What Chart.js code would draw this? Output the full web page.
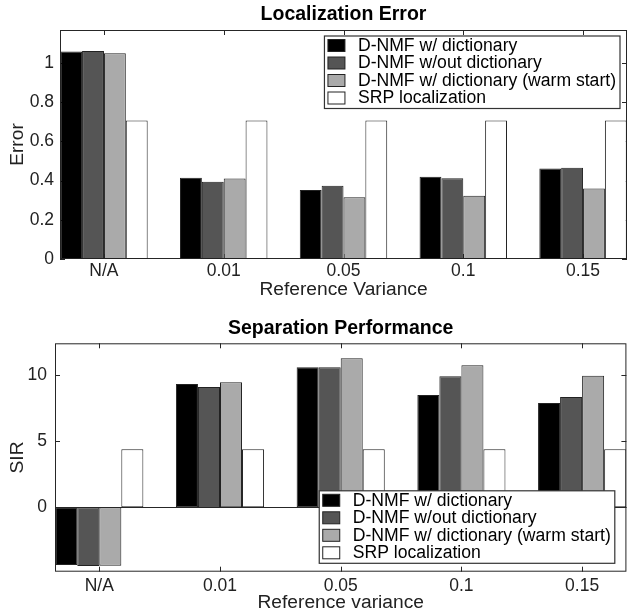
<!DOCTYPE html>
<html>
<head>
<meta charset="utf-8">
<script src="https://cdn.jsdelivr.net/npm/chart.js@4"></script>
<style>
  body { margin: 0; background: #fff; }
  canvas { position: absolute; left: 0; }
  #errChart { top: 0; }
  #sirChart { top: 300px; }
</style>
</head>
<body>
<canvas id="errChart" width="628" height="300"></canvas>
<canvas id="sirChart" width="628" height="311"></canvas>
<script>
const categories = ['N/A', '0.01', '0.05', '0.1', '0.15'];
const seriesNames = [
    'D-NMF w/ dictionary',
    'D-NMF w/out dictionary',
    'D-NMF w/ dictionary (warm start)',
    'SRP localization'
];
const seriesColors = ['#000000', '#555555', '#aaaaaa', '#ffffff'];

// localization error
const errDict   = [1.058, 0.415, 0.352, 0.420, 0.461];
const errNoDict = [1.061, 0.394, 0.374, 0.412, 0.466];
const errWarm   = [1.049, 0.410, 0.315, 0.323, 0.359];
const errSrp    = [0.706, 0.706, 0.706, 0.706, 0.706];

// separation performance (SIR)
const sirDict   = [-4.37, 9.34, 10.60, 8.51, 7.90];
const sirNoDict = [-4.45, 9.11, 10.60, 9.92, 8.36];
const sirWarm   = [-4.42, 9.47, 11.29, 10.76, 9.97];
const sirSrp    = [4.39, 4.39, 4.39, 4.39, 4.39];

Chart.defaults.font.family = '"Liberation Sans", Arial, sans-serif';
Chart.defaults.color = '#222';

const axisColor = '#262626';

// box around the plot with small inward ticks, plus the zero line
const framePlugin = {
    id: 'frame',
    beforeDatasetsDraw(chart) {
        const {ctx, chartArea: a, scales: {x, y}} = chart;
        ctx.save();
        ctx.strokeStyle = axisColor;
        ctx.lineWidth = 1;
        ctx.strokeRect(a.left + 0.5, a.top + 0.5, a.width - 1, a.height - 1);
        ctx.beginPath();
        x.ticks.forEach(t => {
            const px = Math.round(x.getPixelForValue(t.value)) + 0.5;
            ctx.moveTo(px, a.top); ctx.lineTo(px, a.top + 5);
            ctx.moveTo(px, a.bottom); ctx.lineTo(px, a.bottom - 5);
        });
        y.ticks.forEach(t => {
            const py = Math.round(y.getPixelForValue(t.value)) + 0.5;
            ctx.moveTo(a.left, py); ctx.lineTo(a.left + 5, py);
            ctx.moveTo(a.right, py); ctx.lineTo(a.right - 5, py);
        });
        ctx.stroke();
        ctx.restore();
    },
    afterDatasetsDraw(chart) {
        const {ctx, chartArea: a, scales: {y}} = chart;
        if (y.min >= 0) return;
        const py = Math.round(y.getPixelForValue(0)) + 0.5;
        ctx.save();
        ctx.strokeStyle = axisColor;
        ctx.lineWidth = 1;
        ctx.beginPath();
        ctx.moveTo(a.left, py); ctx.lineTo(a.right, py);
        ctx.stroke();
        ctx.restore();
    }
};

// matlab style legend box inside the plot
function boxLegend(opts) {
    return {
        id: 'boxLegend',
        afterDraw(chart) {
            const {ctx, chartArea: a} = chart;
            ctx.save();
            ctx.font = '17.6px "Liberation Sans", Arial, sans-serif';
            const names = chart.data.datasets.map(d => d.label);
            const tw = Math.max(...names.map(n => ctx.measureText(n).width));
            const rowH = 17.5;
            const w = 33.5 + tw + 4;
            const h = rowH * names.length + 2.5;
            const right = a.right - opts.right;
            const left = right - w;
            const top = opts.top != null ? a.top + opts.top : a.bottom - opts.bottom - h;
            ctx.fillStyle = '#fff';
            ctx.fillRect(left, top, w, h);
            ctx.strokeStyle = '#333';
            ctx.lineWidth = 1.2;
            ctx.strokeRect(left, top, w, h);
            ctx.textBaseline = 'middle';
            ctx.lineWidth = 1;
            chart.data.datasets.forEach((d, i) => {
                const cy = top + 9.5 + rowH * i;
                ctx.fillStyle = d.backgroundColor;
                ctx.fillRect(left + 3.5, cy - 6, 17, 12);
                ctx.strokeStyle = '#222';
                ctx.strokeRect(left + 3.5, cy - 6, 17, 12);
                ctx.fillStyle = '#000';
                ctx.fillText(d.label, left + 33.5, cy + 0.5);
            });
            ctx.restore();
        }
    };
}

function makeChart(id, series, o) {
    return new Chart(document.getElementById(id), {
        type: 'bar',
        data: {
            datasets: series.map((vals, i) => ({
                label: seriesNames[i],
                data: vals.map((v, j) => ({x: j + 1, y: v})),
                backgroundColor: seriesColors[i],
                borderColor: '#222',
                borderWidth: 1,
                borderSkipped: false,
                barPercentage: 1,
                categoryPercentage: 0.73
            }))
        },
        options: {
            responsive: false,
            animation: false,
            events: [],
            layout: {padding: {left: 0, right: o.rightPad, top: 0, bottom: 0}},
            plugins: {
                legend: {display: false},
                tooltip: {enabled: false},
                title: {
                    display: true,
                    text: o.title,
                    color: '#000',
                    fullSize: false,
                    font: {size: 19.5, weight: 'bold', lineHeight: 1.2},
                    padding: o.titlePad
                }
            },
            scales: {
                x: {
                    type: 'linear',
                    offset: false,
                    min: 0.633,
                    max: 5.367,
                    grid: {display: false, drawTicks: false, offset: false},
                    border: {display: false},
                    ticks: {
                        stepSize: 1,
                        includeBounds: false,
                        padding: o.xTickPad,
                        font: {size: 17.5},
                        callback: v => categories[v - 1]
                    },
                    title: {
                        display: true,
                        text: o.xTitle,
                        font: {size: 19.2, lineHeight: 0.8},
                        padding: {top: 0, bottom: o.xTitleBottom}
                    },
                    afterFit: s => { s.height = o.xHeight; }
                },
                y: {
                    min: o.yMin,
                    max: o.yMax,
                    grid: {display: false, drawTicks: false},
                    border: {display: false},
                    ticks: {
                        stepSize: o.yStep,
                        includeBounds: false,
                        padding: o.yTickPad,
                        font: {size: 17.5},
                        callback: v => Number(v.toFixed(2)).toString()
                    },
                    title: {
                        display: true,
                        text: o.yTitle,
                        font: {size: 19.2, lineHeight: 0.8},
                        padding: {top: 10.3, bottom: 0}
                    },
                    afterFit: s => { s.width = o.yWidth; }
                }
            }
        },
        plugins: [framePlugin, boxLegend(o.legend)]
    });
}

makeChart('errChart', [errDict, errNoDict, errWarm, errSrp], {
    title: 'Localization Error',
    titlePad: {top: 3.3, bottom: 3.3},
    xTitle: 'Reference Variance',
    yTitle: 'Error',
    yMin: 0, yMax: 1.168, yStep: 0.2,
    yWidth: 60, xHeight: 41, rightPad: 1,
    xTickPad: 2, yTickPad: 6, xTitleBottom: 2.3,
    legend: {right: 7, top: 6}
});

makeChart('sirChart', [sirDict, sirNoDict, sirWarm, sirSrp], {
    title: 'Separation Performance',
    titlePad: {top: 16.6, bottom: 3.3},
    xTitle: 'Reference variance',
    yTitle: 'SIR',
    yMin: -4.88, yMax: 12.42, yStep: 5,
    yWidth: 55, xHeight: 39.3, rightPad: 1.6,
    xTickPad: 3.5, yTickPad: 8, xTitleBottom: 0.3,
    legend: {right: 11.6, bottom: 8.4}
});
</script>
</body>
</html>
